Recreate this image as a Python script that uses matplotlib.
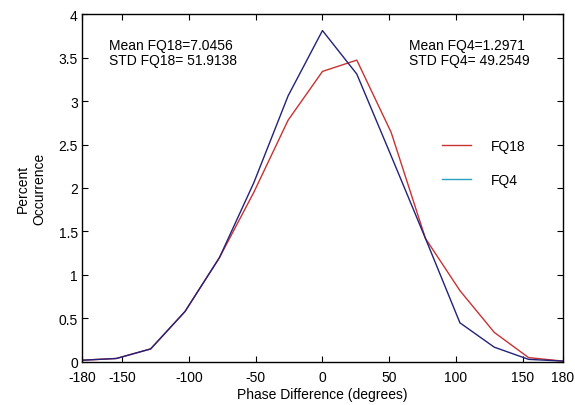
import matplotlib
matplotlib.use("Agg")
import matplotlib.pyplot as plt
from matplotlib.lines import Line2D

plt.rcParams['font.family'] = ['Liberation Sans', 'DejaVu Sans']
plt.rcParams['axes.unicode_minus'] = False

phase = [-180, -154.3, -128.6, -102.9, -77.1, -51.4, -25.7, 0, 25.7, 51.4, 77.1, 102.9, 128.6, 154.3, 180]
fq18 = [0.02, 0.04, 0.15, 0.58, 1.20, 1.95, 2.78, 3.34, 3.47, 2.64, 1.42, 0.82, 0.34, 0.05, 0.01]
fq4 = [0.02, 0.04, 0.15, 0.58, 1.20, 2.06, 3.06, 3.81, 3.31, 2.37, 1.42, 0.45, 0.17, 0.03, 0.01]
xticks = [-180, -150, -100, -50, 0, 50, 100, 150, 180]
yticks = [0, 0.5, 1, 1.5, 2, 2.5, 3, 3.5, 4]
ytick_labels = ['0', '0.5', '1', '1.5', '2', '2.5', '3', '3.5', '4']

red = '#c83232'
navy = '#22227a'
teal = '#2aa0c0'

fig = plt.figure(figsize=(5.75, 4.06), dpi=100)
ax = fig.add_axes([0.1426, 0.106, 0.979 - 0.1426, 0.963 - 0.106])

ax.plot(phase, fq18, color=red, lw=1.0)
ax.plot(phase, fq4, color=navy, lw=1.0)

ax.set_xlim(-180, 180)
ax.set_ylim(0, 4)
ax.set_xticks(xticks)
ax.set_yticks(yticks)
ax.set_yticklabels(ytick_labels)
ax.tick_params(direction='in', top=True, right=True, length=4, labelsize=10)
ax.tick_params(axis='x', pad=6)
ax.tick_params(axis='y', pad=3)
for s in ax.spines.values():
    s.set_linewidth(1.0)

ax.set_xlabel('Phase Difference (degrees)', fontsize=10, labelpad=2)
ax.set_ylabel('Percent\nOccurrence', fontsize=10, labelpad=9)

ax.text(0.056, 0.93, 'Mean FQ18=7.0456\nSTD FQ18= 51.9138', transform=ax.transAxes,
        fontsize=10, va='top', ha='left', linespacing=1.1)
ax.text(0.68, 0.93, 'Mean FQ4=1.2971\nSTD FQ4= 49.2549', transform=ax.transAxes,
        fontsize=10, va='top', ha='left', linespacing=1.1)

handles = [Line2D([], [], color=red, lw=1.0), Line2D([], [], color=teal, lw=1.0)]
ax.legend(handles, ['FQ18', 'FQ4'], frameon=False, loc='upper left',
          bbox_to_anchor=(0.722, 0.677), fontsize=10, handlelength=2.1,
          handletextpad=1.45, labelspacing=1.45)

fig.savefig('out.png', dpi=100)
